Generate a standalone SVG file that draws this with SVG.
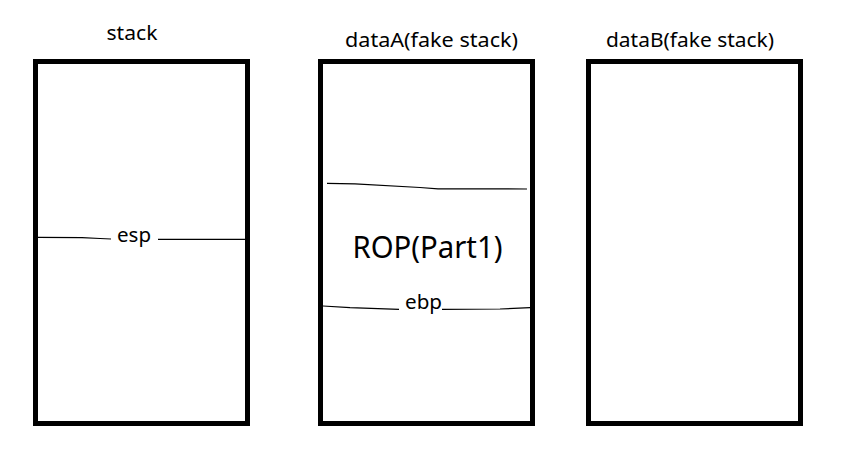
<svg xmlns="http://www.w3.org/2000/svg" width="861" height="459" viewBox="0 0 861 459">
<style>
.box{fill:none;stroke:#000;stroke-width:5}
.ln{fill:none;stroke:#000;stroke-width:1.2}
text{font-family:"Noto Sans","Open Sans","DejaVu Sans",sans-serif;fill:#000}
.t{font-size:20px}
</style>
<rect width="861" height="459" fill="#fff"/>
<g id="stack">
<rect class="box" x="35.5" y="61.5" width="212" height="362"/>
<text class="t" x="106.5" y="39.5" textLength="51" lengthAdjust="spacingAndGlyphs">stack</text>
</g>
<g id="dataA">
<rect class="box" x="320.5" y="61.5" width="212" height="362"/>
<text class="t" x="345" y="47" textLength="173" lengthAdjust="spacingAndGlyphs">dataA(fake stack)</text>
<text x="352.5" y="257.5" font-size="30" textLength="150" lengthAdjust="spacingAndGlyphs">ROP(Part1)</text>
</g>
<g id="dataB">
<rect class="box" x="588.5" y="61.5" width="212" height="362"/>
<text class="t" x="606" y="47" textLength="168" lengthAdjust="spacingAndGlyphs">dataB(fake stack)</text>
</g>
<g id="connectors">
<polyline class="ln" points="38,237.3 82,237.6 100,238.5 111,239"/>
<polyline class="ln" points="158,239.3 245,239.3"/>
<polyline class="ln" points="327,183.3 355,183.8 420,187.5 438,188.8 527,189"/>
<polyline class="ln" points="323,306 350,307.7 399,309.3"/>
<polyline class="ln" points="442,309.3 500,309 530,307.7"/>
</g>
<g id="labels">
<text class="t" x="117" y="242.3" textLength="34" lengthAdjust="spacingAndGlyphs">esp</text>
<text class="t" x="405" y="309" textLength="37" lengthAdjust="spacingAndGlyphs">ebp</text>
</g>
</svg>
